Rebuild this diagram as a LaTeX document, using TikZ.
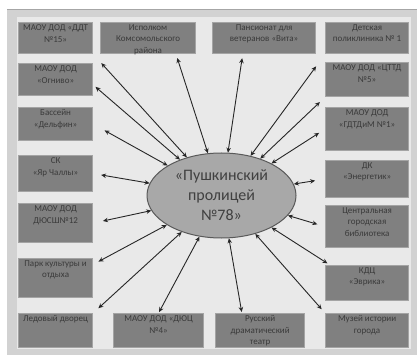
\documentclass[tikz,border=0pt]{standalone}
\usepackage{fontspec}
\setmainfont{Carlito}
\usetikzlibrary{arrows.meta,shapes.geometric}
\definecolor{framegray}{HTML}{D2D2D2}
\definecolor{innergray}{HTML}{E9E9E9}
\definecolor{boxgray}{HTML}{808080}
\definecolor{boxline}{HTML}{A4A4A4}
\definecolor{txtgray}{HTML}{3A3A3A}
\definecolor{ellgray}{HTML}{A8A8A8}

\begin{document}
\begin{tikzpicture}[x=1pt,y=-1pt,
    box/.style={draw=boxline,line width=1.2pt,fill=boxgray,anchor=north west,inner sep=0pt},
    boxtext/.style={anchor=north,align=center,font=\fontsize{9}{11.5}\selectfont,text=txtgray,inner sep=2.5pt},
    arr/.style={{Stealth[length=5pt,width=4.5pt]}-{Stealth[length=5pt,width=4.5pt]},line width=0.9pt,draw=black!85}]
        \useasboundingbox (0,0) rectangle (417,355);
        \fill[framegray] (7,9) rectangle (417,355);
        \draw[gray!70,line width=0.8pt] (7,9) -- (417,9);
        \fill[innergray] (17,17) rectangle (411,349);

        \node[box,minimum width=74pt,minimum height=31pt] (ddt) at (18,22) {};
        \node[boxtext] (ddt-t) at (ddt.north) {МАОУ ДОД «ДДТ\\№15»};
        \node[box,minimum width=95pt,minimum height=31pt] (isp) at (100,22) {};
        \node[boxtext] (isp-t) at (isp.north) {Исполком\\Комсомольского\\района};
        \node[box,minimum width=103pt,minimum height=31pt] (pans) at (212,22) {};
        \node[boxtext] (pans-t) at (pans.north) {Пансионат для\\ветеранов «Вита»};
        \node[box,minimum width=83pt,minimum height=31pt] (det) at (325,22) {};
        \node[boxtext] (det-t) at (det.north) {Детская\\поликлиника № 1};

        \node[box,minimum width=74pt,minimum height=32pt] (ogn) at (18,63) {};
        \node[boxtext] (ogn-t) at (ogn.north) {МАОУ ДОД\\«Огниво»};
        \node[box,minimum width=74pt,minimum height=33pt] (bas) at (18,107) {};
        \node[boxtext] (bas-t) at (bas.north) {Бассейн\\«Дельфин»};
        \node[box,minimum width=74pt,minimum height=36pt] (sk) at (18,155) {};
        \node[boxtext] (sk-t) at (sk.north) {СК\\«Яр Чаллы»};
        \node[box,minimum width=74pt,minimum height=39pt] (dyu) at (18,203) {};
        \node[boxtext] (dyu-t) at (dyu.north) {МАОУ ДОД\\ДЮСШ№12};
        \node[box,minimum width=74pt,minimum height=39pt] (park) at (18,258) {};
        \node[boxtext] (park-t) at (park.north) {Парк культуры и\\отдыха};
        \node[box,minimum width=74pt,minimum height=34pt] (led) at (18,313) {};
        \node[boxtext] (led-t) at (led.north) {Ледовый дворец};

        \node[box,minimum width=83pt,minimum height=34pt] (ctt) at (325,62) {};
        \node[boxtext] (ctt-t) at (ctt.north) {МАОУ ДОД «ЦТТД\\№5»};
        \node[box,minimum width=83pt,minimum height=43pt] (gdt) at (325,107) {};
        \node[boxtext] (gdt-t) at (gdt.north) {МАОУ ДОД\\«ГДТДиМ №1»};
        \node[box,minimum width=83pt,minimum height=37pt] (dk) at (325,160) {};
        \node[boxtext] (dk-t) at (dk.north) {ДК\\«Энергетик»};
        \node[box,minimum width=83pt,minimum height=42pt] (lib) at (325,205) {};
        \node[boxtext] (lib-t) at (lib.north) {Центральная\\городская\\библиотека};
        \node[box,minimum width=83pt,minimum height=35pt] (kdc) at (325,265) {};
        \node[boxtext] (kdc-t) at (kdc.north) {КДЦ\\«Эврика»};
        \node[box,minimum width=83pt,minimum height=34pt] (muz) at (325,313) {};
        \node[boxtext] (muz-t) at (muz.north) {Музей истории\\города};

        \node[box,minimum width=90pt,minimum height=34pt] (dyuc) at (113,313) {};
        \node[boxtext] (dyuc-t) at (dyuc.north) {МАОУ ДОД «ДЮЦ\\№4»};
        \node[box,minimum width=89pt,minimum height=34pt] (rus) at (215,313) {};
        \node[boxtext] (rus-t) at (rus.north) {Русский\\драматический\\театр};

        \node[ellipse,draw=black!65,line width=1pt,fill=ellgray,minimum width=149pt,minimum height=85pt,inner sep=0pt,
            align=center,font=\fontsize{16}{20}\selectfont,text=black!75] (ell) at (221.5,195.5) {«Пушкинский\\пролицей\\№78»};

        \draw[arr,shorten >=12pt] (ell) -- (ddt.south east);
        \draw[arr,shorten >=4pt] (ell) -- (isp.-30);
        \draw[arr,shorten >=4pt] (ell) -- (pans.-143);
        \draw[arr,shorten >=15pt] (ell) -- (det.south west);
        \draw[arr,shorten >=7pt] (ell) -- (ctt.south west);
        \draw[arr,shorten >=7pt] (ell) -- (gdt.west);
        \draw[arr,shorten >=10pt] (ell) -- (dk.west);
        \draw[arr,shorten >=8pt] (ell) -- (lib.west);
        \draw[arr,shorten >=3pt] (ell) -- (kdc.154);
        \draw[arr,shorten >=5pt] (ell) -- (muz.north west);
        \draw[arr,shorten >=1pt] (ell) -- (rus.136);
        \draw[arr,shorten >=1pt] (ell) -- (dyuc.north);
        \draw[arr,shorten >=7pt] (ell) -- (led.north east);
        \draw[arr,shorten >=6pt] (ell) -- (park.20);
        \draw[arr,shorten >=10pt] (ell) -- (dyu.east);
        \draw[arr,shorten >=8pt] (ell) -- (sk.east);
        \draw[arr,shorten >=13pt] (ell) -- (bas.east);
        \draw[arr,shorten >=3pt] (ell) -- (ogn.-8);
\end{tikzpicture}
\end{document}
